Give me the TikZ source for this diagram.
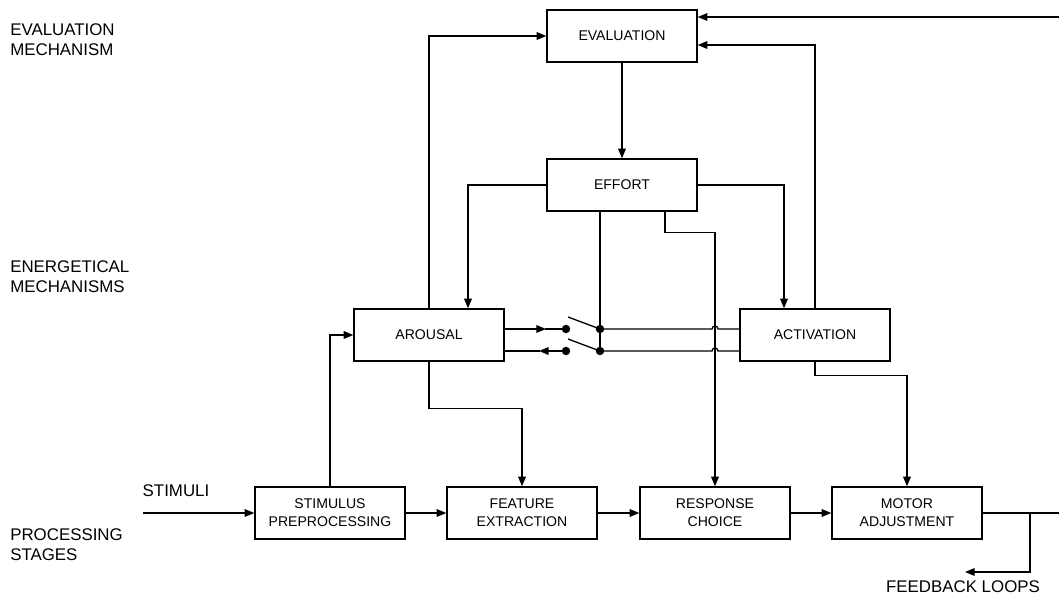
\documentclass[tikz,border=0pt]{standalone}
\usepackage{fontspec}
\setmainfont{Liberation Sans}
\usetikzlibrary{calc,arrows.meta,positioning}
\tikzset{
  ar/.style={-{Triangle[length=2.4mm,width=1.9mm]},line width=0.95pt},
  ln/.style={line width=0.95pt},
  box/.style={draw,line width=0.95pt,minimum width=3.75cm,minimum height=1.3cm,align=center,inner sep=2pt,font=\fontsize{10}{13}\selectfont},
  lbl/.style={align=left,inner sep=0pt,font=\fontsize{12}{14.5}\selectfont},
  dotc/.style={circle,fill,inner sep=0pt,minimum size=6pt}
}
\begin{document}
\begin{tikzpicture}[x=0.025cm,y=-0.025cm]
\useasboundingbox (0,0) rectangle (1059,597);
% left labels
\node[lbl,anchor=north west] (lev) at (10,23) {EVALUATION\\MECHANISM};
\node[lbl,anchor=north west] (len) at (10,260) {ENERGETICAL\\MECHANISMS};
\node[lbl,anchor=north west] (lps) at (10,528) {PROCESSING\\STAGES};
% boxes
\node[box] (eval) at (622,36) {EVALUATION};
\node[box] (effort) at (622,185) {EFFORT};
\node[box] (arousal) at (429,335) {AROUSAL};
\node[box] (activ) at (815,335) {ACTIVATION};
\node[box] (stimpre) at (330,513) {STIMULUS\\PREPROCESSING};
\node[box] (featx) at (522,513) {FEATURE\\EXTRACTION};
\node[box] (respch) at (715,513) {RESPONSE\\CHOICE};
\node[box] (motor) at (907,513) {MOTOR\\ADJUSTMENT};
% free ends
\coordinate (rin) at (1059,17);
\coordinate (sin) at (143,513);
\coordinate (rout) at (1059,513);
\coordinate (fb) at (1030,513);
\coordinate (fbend) at (965,572);
\node[lbl] (stimlbl) at (176,491) {STIMULI};
\node[lbl] (fblbl) at (963,587) {FEEDBACK LOOPS};
% switch points
\coordinate (p1) at (566,329); \coordinate (q1) at (600,329);
\coordinate (p2) at (566,351); \coordinate (q2) at (600,351);
\node[dotc] (d1) at (p1) {}; \node[dotc] (e1) at (q1) {};
\node[dotc] (d2) at (p2) {}; \node[dotc] (e2) at (q2) {};
% evaluation loop
\draw[ar] (rin) -- (eval.east |- rin);
\draw[ar] (activ.north) |- ($(eval.east)+(0,9)$);
\draw[ar] (arousal.north) |- (eval.west);
\draw[ar] (eval) -- (effort);
\draw[ar] (effort.west) -| ($(arousal.north)+(39,0)$);
\draw[ar] (effort.east) -| ($(activ.north)+(-31,0)$);
\draw[ln] ($(effort.south)+(-22,0)$) -- (q2);
\draw[ar] ($(effort.south)+(43,0)$) -- ++(0,21) -| (respch.north);
% switch
\draw[ar] (arousal.east |- p1) -- ($(p1)+(-20,0)$);
\draw[ln] ($(p1)+(-21,0)$) -- (p1);
\draw[ar] (p2) -- ($(p2)+(-27,0)$);
\draw[ln] ($(p2)+(-26,0)$) -- (arousal.east |- p2);
\draw[ln] (568,317) -- (q1);
\draw[ln] (568,339) -- (q2);
\draw[ln] (q1) -- ($(respch.north |- q1)+(-3,0)$) arc (180:360:3) -- (activ.west |- q1);
\draw[ln] (q2) -- ($(respch.north |- q2)+(-3,0)$) arc (180:360:3) -- (activ.west |- q2);
% to the stages
\draw[ar] (arousal.south) -- ++(0,47) -| (featx.north);
\draw[ar] (activ.south) -- ++(0,14) -| (motor.north);
\draw[ar] (stimpre.north) |- (arousal.west);
\draw[ar] (sin) -- (stimpre.west);
\draw[ar] (stimpre) -- (featx);
\draw[ar] (featx) -- (respch);
\draw[ar] (respch) -- (motor);
\draw[ln] (motor.east) -- (rout);
\draw[ar] (fb) |- (fbend);
\end{tikzpicture}
\end{document}
